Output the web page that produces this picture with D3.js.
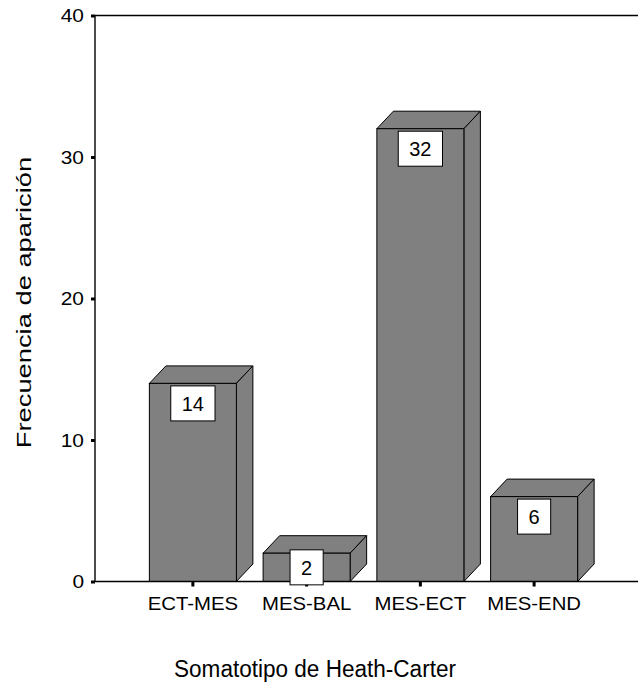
<!DOCTYPE html>
<html>
<head>
<meta charset="utf-8">
<script src="https://cdn.jsdelivr.net/npm/d3@7"></script>
<style>
  body { margin: 0; background: #fff; }
  svg text { font-family: "Liberation Sans", Arial, sans-serif; fill: #000; }
</style>
</head>
<body>
<svg id="chart"></svg>
<script>
// Somatotipo de Heath-Carter - frecuencias
const categories = ['ECT-MES', 'MES-BAL', 'MES-ECT', 'MES-END'];
const counts = [14, 2, 32, 6];
const yTicks = [0, 10, 20, 30, 40];

const width = 638, height = 688;
const margin = { top: 15.5, left: 95, bottom: 106.5 };
const depth = { dx: 16.5, dy: 17.5 };
const barColor = '#808080';

const svg = d3.select('#chart')
    .attr('width', width)
    .attr('height', height);

const x = d3.scaleBand()
    .domain(categories)
    .range([margin.left, 632])
    .paddingInner(0.235)
    .paddingOuter(0.478);

const y = d3.scaleLinear()
    .domain([0, 40])
    .range([height - margin.bottom, margin.top]);

// stretch text horizontally (reference fonts render wide)
function stretch(sel, f) {
    sel.each(function() {
        const w = this.getComputedTextLength();
        d3.select(this).attr('textLength', w * f).attr('lengthAdjust', 'spacingAndGlyphs');
    });
}

const data = categories.map((c, i) => ({ cat: c, val: counts[i] }));

// bars (3d look: front, top, side)
const bars = svg.append('g').attr('class', 'bars');
data.forEach(d => {
    const x0 = x(d.cat), x1 = x0 + x.bandwidth();
    const yt = y(d.val), yb = y(0);
    const g = bars.append('g');
    g.append('path')
        .attr('d', `M${x0},${yt}L${x0 + depth.dx},${yt - depth.dy}L${x1 + depth.dx},${yt - depth.dy}L${x1},${yt}Z`)
        .attr('fill', barColor).attr('stroke', '#000').attr('stroke-width', 1);
    g.append('path')
        .attr('d', `M${x1},${yt}L${x1 + depth.dx},${yt - depth.dy}L${x1 + depth.dx},${yb - depth.dy}L${x1},${yb}Z`)
        .attr('fill', barColor).attr('stroke', '#000').attr('stroke-width', 1);
    g.append('rect')
        .attr('x', x0).attr('y', yt)
        .attr('width', x.bandwidth()).attr('height', yb - yt)
        .attr('fill', barColor).attr('stroke', '#000').attr('stroke-width', 1);
});

// frame lines
const frame = svg.append('g').attr('stroke', '#000').attr('stroke-width', 1.4);
frame.append('line').attr('x1', margin.left).attr('x2', width).attr('y1', y(40)).attr('y2', y(40));
frame.append('line').attr('x1', margin.left).attr('x2', width).attr('y1', y(0)).attr('y2', y(0));
frame.append('line').attr('x1', margin.left).attr('x2', margin.left).attr('y1', y(40)).attr('y2', y(0));

// axes
const yAxis = svg.append('g')
    .attr('transform', `translate(${margin.left},0)`)
    .call(d3.axisLeft(y).tickValues(yTicks).tickSize(4).tickPadding(7).tickSizeOuter(0));
yAxis.select('.domain').remove();
yAxis.selectAll('.tick line').attr('stroke-width', 3);
yAxis.selectAll('.tick text').style('font-size', '19px').attr('fill', '#000');
stretch(yAxis.selectAll('.tick text'), 1.1);

const xAxis = svg.append('g')
    .attr('transform', `translate(0,${y(0)})`)
    .call(d3.axisBottom(x).tickSize(5).tickPadding(10).tickSizeOuter(0));
xAxis.select('.domain').remove();
xAxis.selectAll('.tick line').attr('stroke-width', 3);
xAxis.selectAll('.tick text').style('font-size', '18.5px').attr('fill', '#000');
stretch(xAxis.selectAll('.tick text'), 1.1);

// value labels
const boxH = 35;
const labels = svg.append('g');
data.forEach(d => {
    const cx = x(d.cat) + x.bandwidth() / 2;
    const barH = y(0) - y(d.val);
    const top = barH > boxH + 5 ? y(d.val) + 2.5 : (y(d.val) + y(0)) / 2 - boxH / 2;
    const g = labels.append('g');
    const rect = g.append('rect');
    const t = g.append('text')
        .attr('x', cx)
        .attr('y', top + boxH / 2 + 7.2)
        .attr('text-anchor', 'middle')
        .style('font-size', '20px')
        .text(d.val);
    const w = t.node().getComputedTextLength() + 22;
    rect.attr('x', cx - w / 2).attr('y', top)
        .attr('width', w).attr('height', boxH)
        .attr('fill', '#fff').attr('stroke', '#000').attr('stroke-width', 1);
});

// axis titles
const yTitle = svg.append('text')
    .attr('transform', `translate(31,${(y(0) + y(40)) / 2 + 4}) rotate(-90)`)
    .attr('text-anchor', 'middle')
    .style('font-size', '21px')
    .text('Frecuencia de aparición');
stretch(yTitle, 1.3);

const xTitle = svg.append('text')
    .attr('x', 315)
    .attr('y', 677)
    .attr('text-anchor', 'middle')
    .style('font-size', '23px')
    .text('Somatotipo de Heath-Carter');
stretch(xTitle, 0.98);
</script>
</body>
</html>
